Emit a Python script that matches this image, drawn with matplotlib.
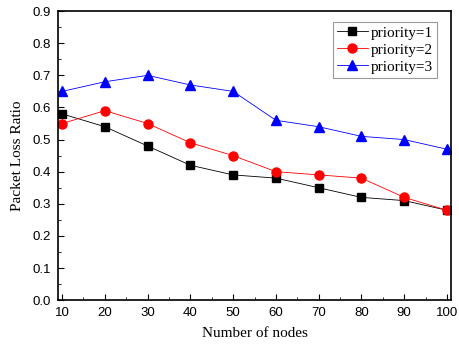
import matplotlib
matplotlib.use("Agg")
import matplotlib.pyplot as plt
from matplotlib.ticker import MultipleLocator, FormatStrFormatter

nodes = [10, 20, 30, 40, 50, 60, 70, 80, 90, 100]
priority1 = [0.58, 0.54, 0.48, 0.42, 0.39, 0.38, 0.35, 0.32, 0.31, 0.28]
priority2 = [0.55, 0.59, 0.55, 0.49, 0.45, 0.40, 0.39, 0.38, 0.32, 0.28]
priority3 = [0.65, 0.68, 0.70, 0.67, 0.65, 0.56, 0.54, 0.51, 0.50, 0.47]

fig = plt.figure(figsize=(4.59, 3.47), dpi=100)
ax = fig.add_axes([0.126, 0.135, 0.857, 0.833])

ax.plot(nodes, priority1, color="black", lw=0.6, marker="s", ms=6, label="priority=1")
ax.plot(nodes, priority2, color="red", lw=0.6, marker="o", ms=6.5, label="priority=2")
ax.plot(nodes, priority3, color="blue", lw=0.6, marker="^", ms=7, label="priority=3")

ax.set_xlim(9, 101)
ax.set_ylim(0, 0.9)
ax.xaxis.set_major_locator(MultipleLocator(10))
ax.xaxis.set_minor_locator(MultipleLocator(5))
ax.yaxis.set_major_locator(MultipleLocator(0.1))
ax.yaxis.set_minor_locator(MultipleLocator(0.05))
ax.yaxis.set_major_formatter(FormatStrFormatter("%.1f"))
ax.tick_params(which="both", direction="in", labelsize=9.5)
ax.tick_params(which="major", length=4, pad=5)
ax.tick_params(which="minor", length=2)
for lab in ax.get_xticklabels() + ax.get_yticklabels():
    lab.set_family("Liberation Sans")
for s in ax.spines.values():
    s.set_linewidth(1.2)

ax.set_xlabel("Number of nodes", family="Liberation Serif", fontsize=11, labelpad=6)
ax.set_ylabel("Packet Loss Ratio", family="Liberation Serif", fontsize=11, labelpad=6)

leg = ax.legend(loc="upper right", bbox_to_anchor=(0.963, 0.962), fancybox=False,
                prop={"family": "Liberation Serif", "size": 11},
                handlelength=2.0, borderpad=0.25, labelspacing=0.22, handletextpad=0.2,
                borderaxespad=0)
leg.get_frame().set_edgecolor("gray")
leg.get_frame().set_linewidth(0.8)

plt.savefig("out.png", dpi=100)
plt.close()
